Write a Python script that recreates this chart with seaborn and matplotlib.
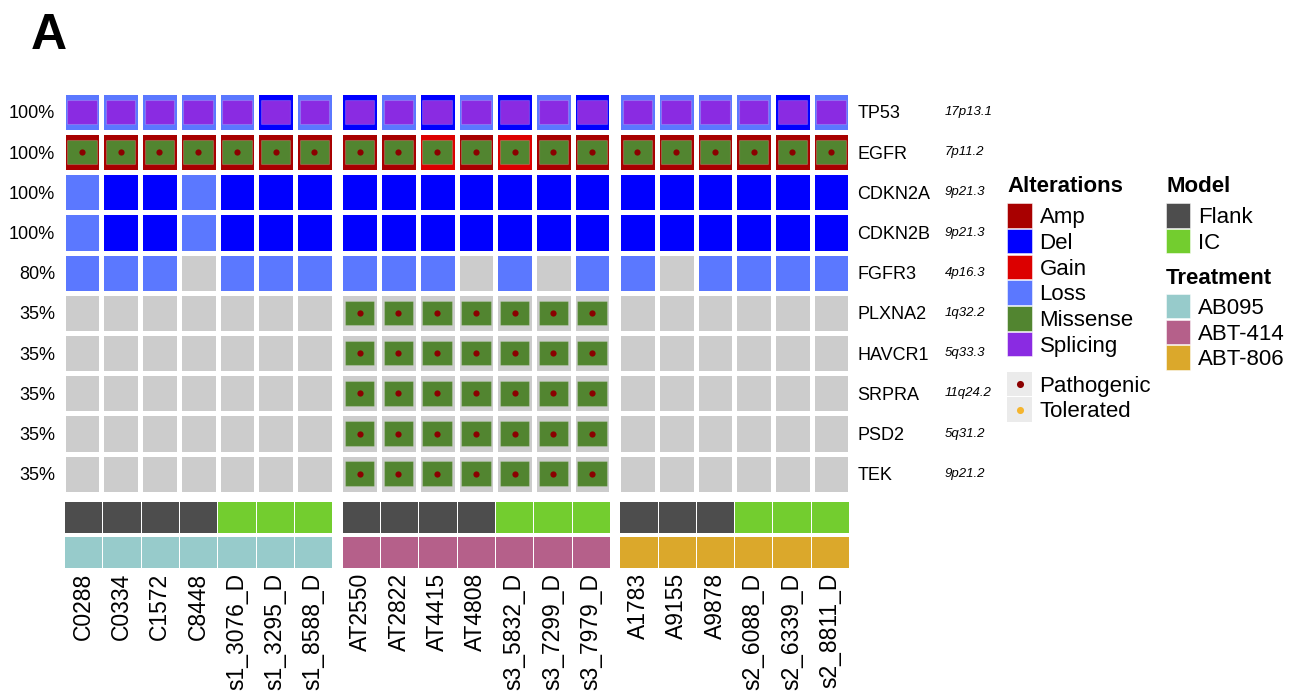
import numpy as np
import pandas as pd
import matplotlib
matplotlib.use("Agg")
import matplotlib.pyplot as plt
import matplotlib.transforms as mtransforms
from matplotlib.colors import ListedColormap
from matplotlib.patches import Rectangle
import seaborn as sns

# ---------------------------------------------------------------- data
samples = ["C0288", "C0334", "C1572", "C8448", "s1_3076_D", "s1_3295_D", "s1_8588_D",
           "AT2550", "AT2822", "AT4415", "AT4808", "s3_5832_D", "s3_7299_D", "s3_7979_D",
           "A1783", "A9155", "A9878", "s2_6088_D", "s2_6339_D", "s2_8811_D"]
treatment = ["AB095"] * 7 + ["ABT-414"] * 7 + ["ABT-806"] * 6
model = (["Flank"] * 4 + ["IC"] * 3 + ["Flank"] * 4 + ["IC"] * 3
         + ["Flank"] * 3 + ["IC"] * 3)

genes = ["TP53", "EGFR", "CDKN2A", "CDKN2B", "FGFR3",
         "PLXNA2", "HAVCR1", "SRPRA", "PSD2", "TEK"]
cytobands = ["17p13.1", "7p11.2", "9p21.3", "9p21.3", "4p16.3",
             "1q32.2", "5q33.3", "11q24.2", "5q31.2", "9p21.2"]

# copy-number calls per sample ("" = no call)
cna_tp53 = (["Loss"] * 5 + ["Del", "Loss"]
            + ["Del", "Loss", "Del", "Loss", "Del", "Loss", "Del"]
            + ["Loss"] * 4 + ["Del", "Loss"])
cna_egfr = (["Amp"] * 7
            + ["Amp", "Amp", "Gain", "Amp", "Gain", "Amp", "Amp"]
            + ["Amp"] * 6)
cna_cdkn2a = ["Loss", "Del", "Del", "Loss", "Del", "Del", "Del"] + ["Del"] * 13
cna_cdkn2b = ["Loss", "Del", "Del", "Loss", "Del", "Del", "Del"] + ["Del"] * 13
cna_fgfr3 = (["Loss", "Loss", "Loss", "", "Loss", "Loss", "Loss"]
             + ["Loss", "Loss", "Loss", "", "Loss", "", "Loss"]
             + ["Loss", "", "Loss", "Loss", "Loss", "Loss"])
cna_none = [""] * 20

# point mutations per sample ("" = none)
mut_tp53 = ["Splicing"] * 20
mut_egfr = ["Missense"] * 20
mut_abt414_only = [""] * 7 + ["Missense"] * 7 + [""] * 6
mut_none = [""] * 20

# predicted effect of missense variants
effect_egfr = ["Pathogenic"] * 20
effect_abt414_only = [""] * 7 + ["Pathogenic"] * 7 + [""] * 6
effect_none = [""] * 20

cna_rows = [cna_tp53, cna_egfr, cna_cdkn2a, cna_cdkn2b, cna_fgfr3] + [cna_none] * 5
mut_rows = [mut_tp53, mut_egfr, mut_none, mut_none, mut_none] + [mut_abt414_only] * 5
effect_rows = [effect_none, effect_egfr, effect_none, effect_none, effect_none] + [effect_abt414_only] * 5

cna_df = pd.DataFrame(cna_rows, index=genes, columns=samples)
mut_df = pd.DataFrame(mut_rows, index=genes, columns=samples)
effect_df = pd.DataFrame(effect_rows, index=genes, columns=samples)

# ---------------------------------------------------------------- styling
cna_levels = ["", "Amp", "Del", "Gain", "Loss"]
cna_colors = ["#CCCCCC", "#A80000", "#0000FF", "#DC0000", "#5B78FF"]
mut_colors = {"Missense": "#528530", "Splicing": "#8A2BE2"}
effect_colors = {"Pathogenic": "#8B0000", "Tolerated": "#F5B52E"}
model_levels = ["Flank", "IC"]
model_colors = ["#4D4D4D", "#73CD2F"]
treat_levels = ["AB095", "ABT-414", "ABT-806"]
treat_colors = ["#97CBCB", "#B5608A", "#DBA82B"]

sns.set_theme(style="white")
plt.rcParams["font.family"] = ["Liberation Sans", "DejaVu Sans"]
plt.rcParams["text.color"] = "black"
plt.rcParams["xtick.color"] = "black"
plt.rcParams["ytick.color"] = "black"

W, H = 1303, 692
fig = plt.figure(figsize=(W / 100, H / 100), dpi=100)


def px_axes(x0, y0, x1, y1):
    a = fig.add_axes([x0 / W, 1 - y1 / H, (x1 - x0) / W, (y1 - y0) / H])
    return a


def hide_spines(a):
    for sp in a.spines.values():
        sp.set_visible(False)


# layout in pixels
pitch_x = 38.7
group_gap = 6.8
hm_top, hm_bot = 91.8, 493.8
model_top, model_bot = 501.0, 533.3
treat_top, treat_bot = 535.7, 567.7
inner_w, inner_h = 0.76, 0.61

altered = ((cna_df != "") | (mut_df != "")).mean(axis=1) * 100
pct_labels = [f"{round(v)}%" for v in altered]

groups = list(dict.fromkeys(treatment))
x_left = 62.7
hm_axes = []
for gi, grp in enumerate(groups):
    cols = [s for s, t in zip(samples, treatment) if t == grp]
    n = len(cols)
    x_right = x_left + n * pitch_x

    # alteration grid
    ax = px_axes(x_left, hm_top, x_right, hm_bot)
    codes = cna_df[cols].apply(lambda c: c.map(cna_levels.index))
    sns.heatmap(codes, cmap=ListedColormap(cna_colors), vmin=-0.5,
                vmax=len(cna_levels) - 0.5, cbar=False, linewidths=2.2,
                linecolor="white", xticklabels=False, yticklabels=False, ax=ax)
    for i, g in enumerate(genes):
        for j, s in enumerate(cols):
            m = mut_df.loc[g, s]
            if m:
                ax.add_patch(Rectangle((j + 0.5 - inner_w / 2, i + 0.5 - inner_h / 2),
                                       inner_w, inner_h, facecolor=mut_colors[m],
                                       edgecolor=(1, 1, 1, 0.18), linewidth=0.8))
            e = effect_df.loc[g, s]
            if e:
                ax.scatter(j + 0.5, i + 0.5, s=20, color=effect_colors[e],
                           linewidths=0, zorder=5)
    ax.set_xlim(0, n)
    ax.set_ylim(len(genes), 0)
    ax.tick_params(length=0)
    hide_spines(ax)
    hm_axes.append(ax)

    # sample annotations
    ax_m = px_axes(x_left + 1.3, model_top, x_right - 1.3, model_bot)
    mcodes = pd.DataFrame([[model_levels.index(model[samples.index(s)]) for s in cols]],
                          columns=cols)
    sns.heatmap(mcodes, cmap=ListedColormap(model_colors), vmin=-0.5, vmax=1.5,
                cbar=False, linewidths=0.4, linecolor="white",
                xticklabels=False, yticklabels=False, ax=ax_m)
    hide_spines(ax_m)

    ax_t = px_axes(x_left + 1.3, treat_top, x_right - 1.3, treat_bot)
    tcodes = pd.DataFrame([[treat_levels.index(grp)] * n], columns=cols)
    sns.heatmap(tcodes, cmap=ListedColormap(treat_colors), vmin=-0.5, vmax=2.5,
                cbar=False, linewidths=0.4, linecolor="white",
                xticklabels=False, yticklabels=False, ax=ax_t)
    hide_spines(ax_t)
    ax_t.set_xticks(np.arange(n) + 0.5)
    ax_t.set_xticklabels(cols, rotation=90, fontsize=16.5, color="black")
    ax_t.tick_params(axis="x", length=0, pad=3.5)

    x_left = x_right + group_gap

# percentage of altered samples on the left
ax0 = hm_axes[0]
ax0.set_yticks(np.arange(len(genes)) + 0.5)
ax0.set_yticklabels(pct_labels, fontsize=13, color="black")
ax0.tick_params(axis="y", length=0, pad=5.5)

# gene names and cytobands on the right
axr = hm_axes[-1]
axr.yaxis.tick_right()
axr.set_yticks(np.arange(len(genes)) + 0.5)
axr.set_yticklabels(genes, fontsize=13, color="black")
axr.tick_params(axis="y", length=0, pad=5)
trans = mtransforms.blended_transform_factory(axr.transAxes, axr.transData)
ax_w_px = axr.get_position().width * W
for i, cb in enumerate(cytobands):
    axr.text(1 + (945 - (x_left - group_gap)) / ax_w_px, i + 0.5, cb,
             transform=trans, fontsize=9.5, style="italic", va="center", ha="left",
             color="black")

# ---------------------------------------------------------------- legends
lax = fig.add_axes([0, 0, 1, 1])
lax.set_xlim(0, W)
lax.set_ylim(H, 0)
lax.axis("off")

key = 24.4
key_pitch = 25.7


def legend_block(x, title, title_base, first_top, labels, colors=None, dots=None):
    lax.text(x, title_base, title, fontsize=16, fontweight="bold", va="baseline",
             color="black")
    for k, lab in enumerate(labels):
        top = first_top + k * key_pitch
        if colors is not None:
            lax.add_patch(Rectangle((x, top), key, key, facecolor=colors[k],
                                    edgecolor=(1, 1, 1, 0.6), linewidth=0.6))
        else:
            lax.add_patch(Rectangle((x, top), key, key, facecolor="#EBEBEB",
                                    edgecolor="none"))
            lax.scatter(x + key / 2, top + key / 2, s=26, color=dots[k], linewidths=0)
        lax.text(x + key + 7.8, top + key / 2 + 7.8, lab, fontsize=16, va="baseline",
                 color="black")


alt_labels = ["Amp", "Del", "Gain", "Loss", "Missense", "Splicing"]
alt_colors = [cna_colors[1], cna_colors[2], cna_colors[3], cna_colors[4],
              mut_colors["Missense"], mut_colors["Splicing"]]
legend_block(1007.3, "Alterations", 192.5, 203.3, alt_labels, alt_colors)
legend_block(1007.3, "", 0, 371.7, ["Pathogenic", "Tolerated"],
             dots=[effect_colors["Pathogenic"], effect_colors["Tolerated"]])
legend_block(1166, "Model", 192.5, 203.3, model_levels, model_colors)
legend_block(1166, "Treatment", 284.2, 294.0, treat_levels, treat_colors)

fig.text(49 / W, 1 - 49 / H, "A", fontsize=36, fontweight="bold",
         ha="center", va="baseline", color="black")

fig.savefig("out.png", dpi=100)
